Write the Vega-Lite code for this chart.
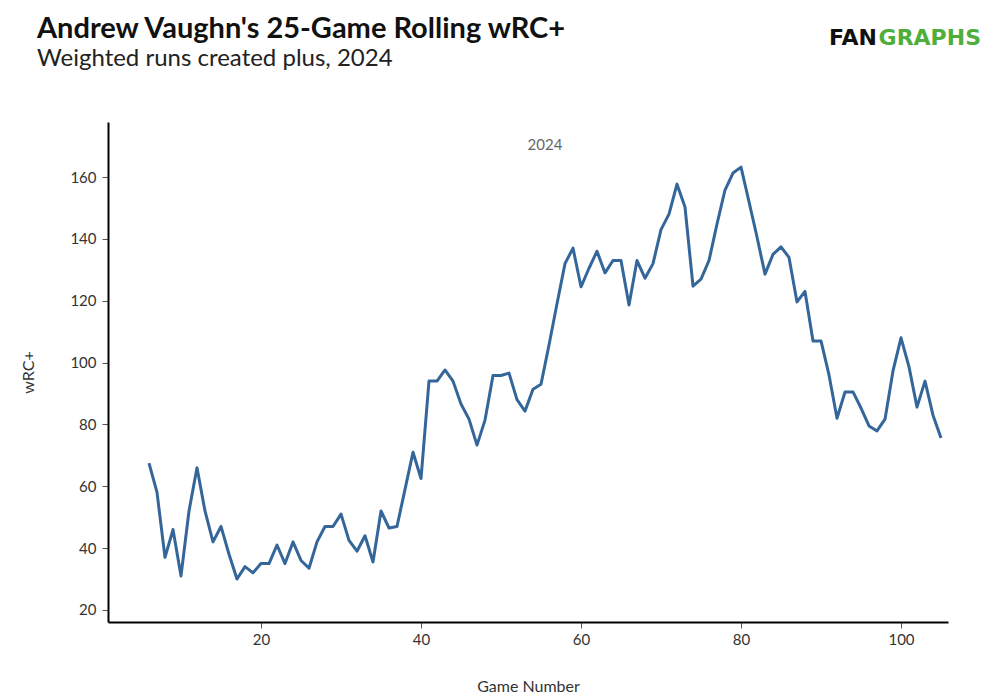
{
  "$schema": "https://vega.github.io/schema/vega-lite/v6.json",
  "description": "Andrew Vaughn 25-game rolling wRC+, 2024",
  "width": 840,
  "height": 500,
  "autosize": {"type": "none"},
  "padding": {"left": 108, "top": 122, "right": 46, "bottom": 78},
  "background": "white",
  "config": {
    "font": "Lato",
    "view": {"stroke": null}
  },
  "title": {
    "text": "Andrew Vaughn's 25-Game Rolling wRC+",
    "subtitle": "Weighted runs created plus, 2024",
    "anchor": "start",
    "frame": "group",
    "dx": -71,
    "offset": -44,
    "font": "Lato",
    "fontSize": 29,
    "fontWeight": "bold",
    "color": "#111111",
    "subtitleFont": "Lato",
    "subtitleFontSize": 24,
    "subtitleColor": "#222222",
    "subtitlePadding": 3
  },
  "data": {
    "values": [
      {"game": 6, "wrc": 67.5}, {"game": 7, "wrc": 58}, {"game": 8, "wrc": 37}, {"game": 9, "wrc": 46},
      {"game": 10, "wrc": 31}, {"game": 11, "wrc": 52}, {"game": 12, "wrc": 66}, {"game": 13, "wrc": 52},
      {"game": 14, "wrc": 42}, {"game": 15, "wrc": 47}, {"game": 16, "wrc": 38}, {"game": 17, "wrc": 30},
      {"game": 18, "wrc": 34}, {"game": 19, "wrc": 32}, {"game": 20, "wrc": 35}, {"game": 21, "wrc": 35},
      {"game": 22, "wrc": 41}, {"game": 23, "wrc": 35}, {"game": 24, "wrc": 42}, {"game": 25, "wrc": 36},
      {"game": 26, "wrc": 33.5}, {"game": 27, "wrc": 42}, {"game": 28, "wrc": 47}, {"game": 29, "wrc": 47},
      {"game": 30, "wrc": 51}, {"game": 31, "wrc": 42.5}, {"game": 32, "wrc": 39}, {"game": 33, "wrc": 44},
      {"game": 34, "wrc": 35.5}, {"game": 35, "wrc": 52}, {"game": 36, "wrc": 46.5}, {"game": 37, "wrc": 47},
      {"game": 38, "wrc": 59}, {"game": 39, "wrc": 71}, {"game": 40, "wrc": 62.5}, {"game": 41, "wrc": 94},
      {"game": 42, "wrc": 94}, {"game": 43, "wrc": 97.6}, {"game": 44, "wrc": 94}, {"game": 45, "wrc": 86.6},
      {"game": 46, "wrc": 81.7}, {"game": 47, "wrc": 73.3}, {"game": 48, "wrc": 81.4}, {"game": 49, "wrc": 95.8},
      {"game": 50, "wrc": 95.8}, {"game": 51, "wrc": 96.6}, {"game": 52, "wrc": 88}, {"game": 53, "wrc": 84.3},
      {"game": 54, "wrc": 91.4}, {"game": 55, "wrc": 93}, {"game": 56, "wrc": 105.7}, {"game": 57, "wrc": 119},
      {"game": 58, "wrc": 132}, {"game": 59, "wrc": 137}, {"game": 60, "wrc": 124.5}, {"game": 61, "wrc": 130.5},
      {"game": 62, "wrc": 136}, {"game": 63, "wrc": 129}, {"game": 64, "wrc": 133}, {"game": 65, "wrc": 133},
      {"game": 66, "wrc": 118.6}, {"game": 67, "wrc": 133}, {"game": 68, "wrc": 127.3}, {"game": 69, "wrc": 132},
      {"game": 70, "wrc": 143}, {"game": 71, "wrc": 148}, {"game": 72, "wrc": 157.7}, {"game": 73, "wrc": 150.3},
      {"game": 74, "wrc": 124.7}, {"game": 75, "wrc": 127}, {"game": 76, "wrc": 133}, {"game": 77, "wrc": 144.8},
      {"game": 78, "wrc": 155.8}, {"game": 79, "wrc": 161.3}, {"game": 80, "wrc": 163.2}, {"game": 81, "wrc": 152},
      {"game": 82, "wrc": 140.6}, {"game": 83, "wrc": 128.6}, {"game": 84, "wrc": 135}, {"game": 85, "wrc": 137.4},
      {"game": 86, "wrc": 134}, {"game": 87, "wrc": 119.6}, {"game": 88, "wrc": 123}, {"game": 89, "wrc": 107},
      {"game": 90, "wrc": 107}, {"game": 91, "wrc": 96}, {"game": 92, "wrc": 82}, {"game": 93, "wrc": 90.5},
      {"game": 94, "wrc": 90.5}, {"game": 95, "wrc": 85.3}, {"game": 96, "wrc": 79.5}, {"game": 97, "wrc": 77.9},
      {"game": 98, "wrc": 81.7}, {"game": 99, "wrc": 97.3}, {"game": 100, "wrc": 108}, {"game": 101, "wrc": 98.6},
      {"game": 102, "wrc": 85.6}, {"game": 103, "wrc": 94}, {"game": 104, "wrc": 83}, {"game": 105, "wrc": 75.6}
    ]
  },
  "layer": [
    {
      "mark": {"type": "line", "color": "#34669a", "strokeWidth": 3, "strokeJoin": "round"},
      "encoding": {
        "x": {
          "field": "game",
          "type": "quantitative",
          "title": "Game Number",
          "scale": {"domain": [0.875, 105.875], "nice": false, "zero": false},
          "axis": {
            "values": [20, 40, 60, 80, 100],
            "grid": false,
            "domainColor": "#000000",
            "domainWidth": 2,
            "tickColor": "#555555",
            "tickSize": 6,
            "labelFont": "Lato",
            "labelFontSize": 15,
            "labelColor": "#333333",
            "labelPadding": 4,
            "titleFont": "Lato",
            "titleFontSize": 16,
            "titleFontWeight": "normal",
            "titleColor": "#333333",
            "titlePadding": 31
          }
        },
        "y": {
          "field": "wrc",
          "type": "quantitative",
          "title": "wRC+",
          "scale": {"domain": [16.1, 177.8], "nice": false, "zero": false},
          "axis": {
            "values": [20, 40, 60, 80, 100, 120, 140, 160],
            "grid": false,
            "domainColor": "#000000",
            "domainWidth": 2,
            "tickColor": "#555555",
            "tickSize": 6,
            "labelFont": "Lato",
            "labelFontSize": 15,
            "labelColor": "#333333",
            "labelPadding": 6,
            "titleFont": "Lato",
            "titleFontSize": 16,
            "titleFontWeight": "normal",
            "titleColor": "#333333",
            "titlePadding": 33
          }
        }
      }
    },
    {
      "data": {"values": [{"year": "2024"}]},
      "mark": {"type": "text", "font": "Lato", "fontSize": 15, "color": "#666666"},
      "encoding": {
        "text": {"field": "year"},
        "x": {"datum": 55.5},
        "y": {"datum": 170.3}
      }
    },
    {
      "data": {"values": [{"part": "FAN"}]},
      "mark": {"type": "text", "font": "DejaVu Sans", "fontWeight": "bold", "fontSize": 22, "color": "#111111", "align": "left", "baseline": "alphabetic"},
      "encoding": {
        "text": {"field": "part"},
        "x": {"datum": 91},
        "y": {"datum": 202.7}
      }
    },
    {
      "data": {"values": [{"part": "GRAPHS"}]},
      "mark": {"type": "text", "font": "DejaVu Sans", "fontWeight": "bold", "fontSize": 22, "color": "#4fae3b", "align": "left", "baseline": "alphabetic"},
      "encoding": {
        "text": {"field": "part"},
        "x": {"datum": 97.2},
        "y": {"datum": 202.7}
      }
    }
  ]
}
